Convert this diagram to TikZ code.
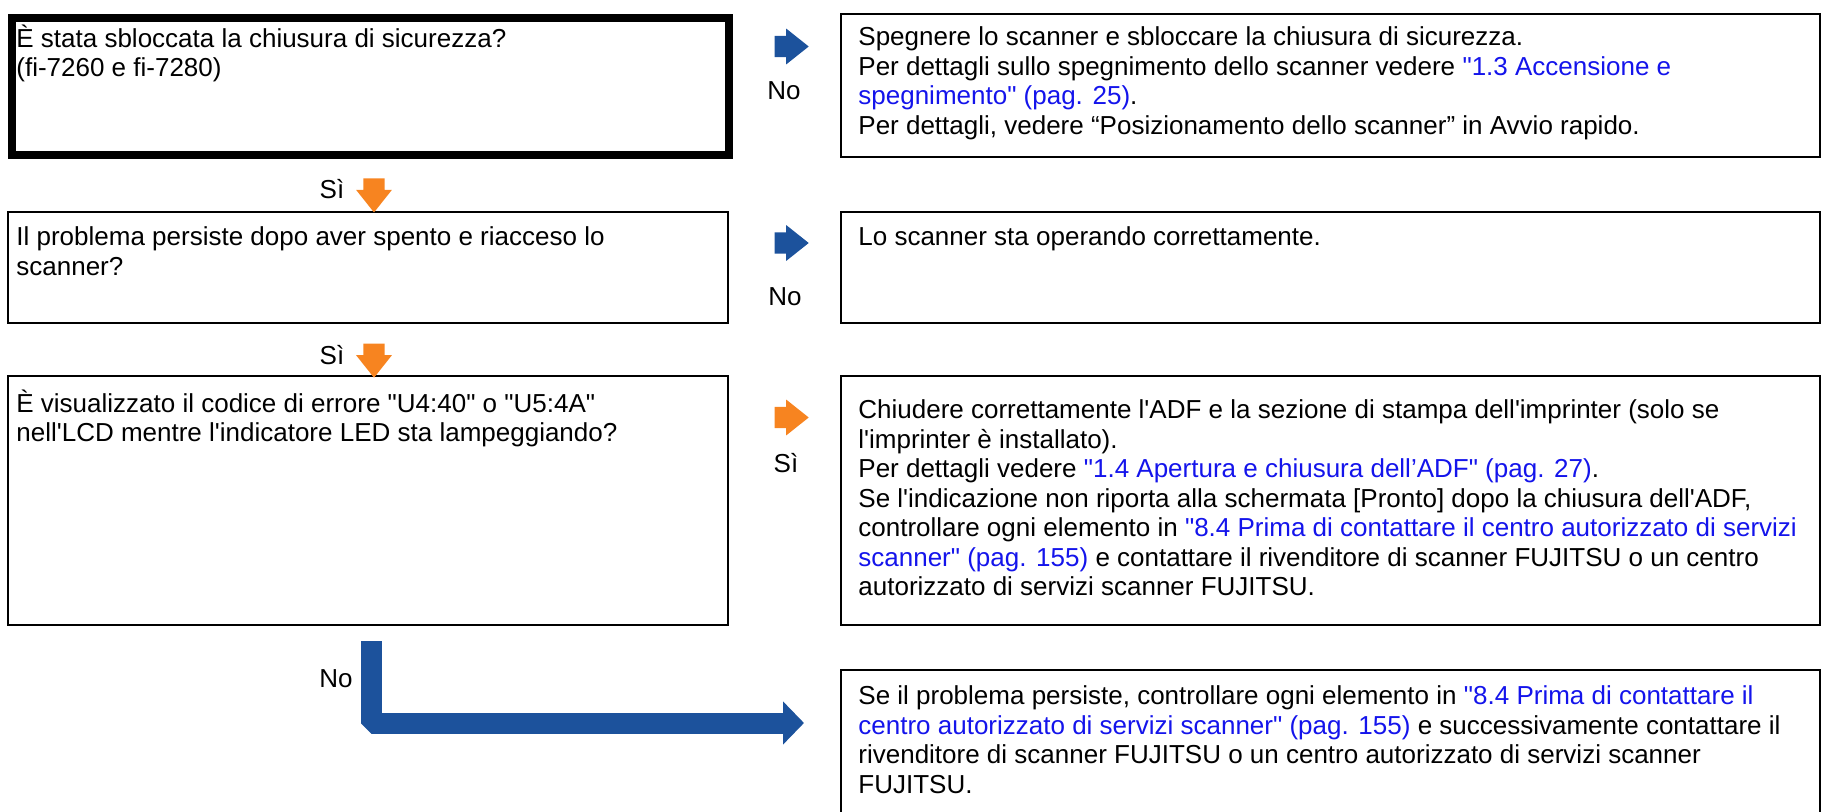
\documentclass[tikz,border=0pt]{standalone}
\usepackage{fontspec}
\setmainfont{Liberation Sans}[Ligatures=TeXOff]
\usetikzlibrary{shapes.arrows,arrows.meta}
\definecolor{flowblue}{RGB}{28,82,156}
\definecolor{floworange}{RGB}{247,132,32}
\definecolor{linkblue}{RGB}{20,20,235}
\newcommand{\lnk}[1]{\textcolor{linkblue}{#1}}

\begin{document}
\begin{tikzpicture}[x=0.5pt,y=0.5pt,yscale=-1,xscale=1,
  txt/.style={anchor=north west,inner sep=0pt,align=left,font=\fontsize{13}{14.75}\selectfont},
  lbl/.style={inner sep=0pt,font=\fontsize{13}{14.75}\selectfont},
  frame/.style={line width=1pt},
  harrow/.style={single arrow,draw=none,inner xsep=0pt,inner ysep=5.15pt,minimum height=17pt,single arrow head extend=3.6pt,single arrow tip angle=77},
  varrow/.style={harrow,inner xsep=5.15pt,inner ysep=0pt,shape border rotate=270}]
\useasboundingbox (0,0) rectangle (1827,812);

%Shape: Rectangle [question boxes]
\draw [line width=4pt] (12,18) rectangle (729,155) ;
\draw [frame] (8,212) rectangle (728,323) ;
\draw [frame] (8,376) rectangle (728,625) ;
%Shape: Rectangle [answer boxes]
\draw [frame] (841,14) rectangle (1820,157) ;
\draw [frame] (841,212) rectangle (1820,323) ;
\draw [frame] (841,376) rectangle (1820,625) ;
\draw [frame] (841,670) rectangle (1820,830) ;

% Text Node
\node [txt] (q1) at (16,24.5) {\strut È stata sbloccata la chiusura di sicurezza?\\(fi-7260 e fi-7280)};
% Text Node
\node [txt] (a1) at (858,24.5) {\strut Spegnere lo scanner e sbloccare la chiusura di sicurezza.\\Per dettagli sullo spegnimento dello scanner vedere \lnk{"1.3 Accensione e}\\\lnk{spegnimento" (pag. 25)}.\\Per dettagli, vedere “Posizionamento dello scanner” in Avvio rapido.};
% Text Node
\node [txt] (q2) at (16,224.5) {\strut Il problema persiste dopo aver spento e riacceso lo\\scanner?};
% Text Node
\node [txt] (a2) at (858,224.5) {\strut Lo scanner sta operando correttamente.};
% Text Node
\node [txt] (q3) at (16,389.5) {\strut È visualizzato il codice di errore "U4:40" o "U5:4A"\\nell'LCD mentre l'indicatore LED sta lampeggiando?};
% Text Node
\node [txt] (a3) at (858,397.5) {\strut Chiudere correttamente l'ADF e la sezione di stampa dell'imprinter (solo se\\l'imprinter è installato).\\Per dettagli vedere \lnk{"1.4 Apertura e chiusura dell’ADF" (pag. 27)}.\\Se l'indicazione non riporta alla schermata [Pronto] dopo la chiusura dell'ADF,\\controllare ogni elemento in \lnk{"8.4 Prima di contattare il centro autorizzato di servizi}\\\lnk{scanner" (pag. 155)} e contattare il rivenditore di scanner FUJITSU o un centro\\autorizzato di servizi scanner FUJITSU.};
% Text Node
\node [txt] (a4) at (858,683.5) {\strut Se il problema persiste, controllare ogni elemento in \lnk{"8.4 Prima di contattare il}\\\lnk{centro autorizzato di servizi scanner" (pag. 155)} e successivamente contattare il\\rivenditore di scanner FUJITSU o un centro autorizzato di servizi scanner\\FUJITSU.};

%Shape: Right Arrow
\node [harrow,fill=flowblue] (arr1) at (785,46.5) {};
\node [harrow,fill=flowblue] (arr2) at (785,243) {};
\node [harrow,fill=floworange] (arr3) at (785,417.5) {};
%Shape: Down Arrow
\node [varrow,fill=floworange] (down1) at (374,188.7) {};
\node [varrow,fill=floworange] (down2) at (374,354) {};

% Text Node
\node [lbl] (no1) at (784,91) {No};
\node [lbl] (no2) at (785,297) {No};
\node [lbl] (si3) at (786,463) {Sì};
\node [lbl] (si1) at (332,189) {Sì};
\node [lbl] (si2) at (332,355) {Sì};
\node [lbl] (no4) at (336,679) {No};

%Straight Lines [elbow arrow]
\coordinate (elbowtop) at (371,641);
\coordinate (elbowtip) at (804,723);
\draw [flowblue,line width=10.5pt,line join=bevel,-{Triangle[width=21pt,length=10.5pt]}] (elbowtop) |- (elbowtip) ;

\end{tikzpicture}
\end{document}
